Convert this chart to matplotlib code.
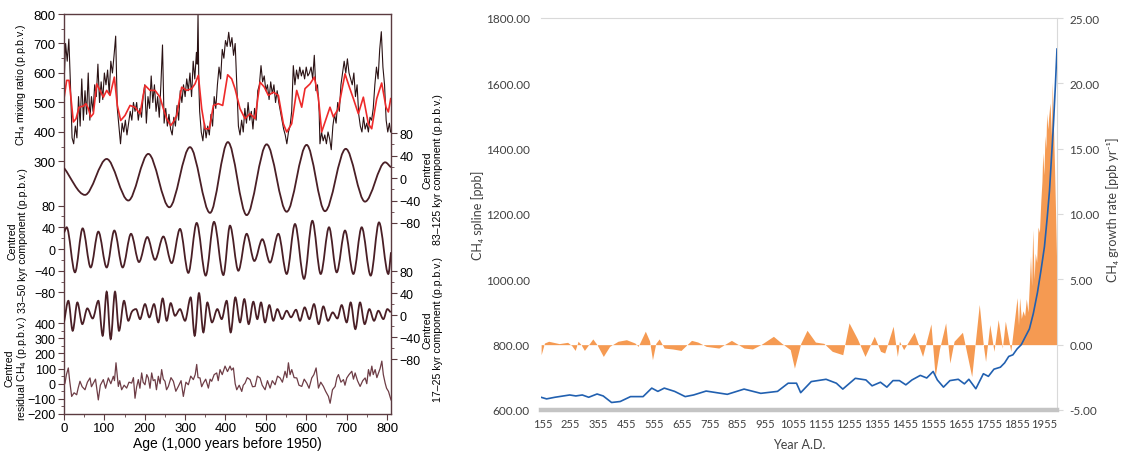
import matplotlib.pyplot as plt
from matplotlib.path import Path
from matplotlib.patches import PathPatch
from matplotlib.ticker import FixedLocator, FormatStrFormatter
import numpy as np

# ---------------- left panel: CH4 over 810 kyr (age kyr, p.p.b.v.) ----------------
raw_pts = [(0, 560), (4, 700), (8, 640), (12, 715), (16, 560), (20, 380), (24, 360), (28, 420),
           (32, 380), (36, 520), (40, 420), (44, 580), (48, 440), (52, 540), (56, 460), (60, 600),
           (64, 440), (68, 520), (72, 470), (76, 560), (80, 520), (84, 630), (88, 500), (92, 570),
           (96, 510), (100, 600), (104, 560), (108, 610), (112, 530), (116, 640), (120, 600),
           (124, 660), (128, 725), (132, 480), (136, 420), (140, 360), (144, 430), (148, 400),
           (152, 440), (156, 390), (160, 430), (164, 470), (168, 440), (172, 500), (176, 470),
           (180, 500), (184, 440), (188, 480), (192, 450), (196, 520), (200, 560), (204, 430),
           (208, 520), (212, 480), (216, 590), (220, 500), (224, 560), (228, 470), (232, 520),
           (236, 450), (240, 560), (244, 695), (248, 430), (252, 480), (256, 420), (260, 460),
           (264, 410), (268, 390), (272, 450), (276, 420), (280, 490), (284, 440), (288, 540),
           (292, 500), (296, 560), (300, 520), (304, 580), (308, 540), (312, 600), (316, 520),
           (320, 640), (324, 580), (328, 670), (330, 630), (332, 800), (334, 560), (336, 470),
           (340, 400), (344, 370), (348, 430), (352, 380), (356, 420), (360, 390), (364, 460),
           (368, 420), (372, 520), (376, 480), (380, 560), (384, 620), (388, 580), (392, 680),
           (396, 650), (400, 710), (404, 690), (408, 738), (412, 690), (416, 720), (420, 660),
           (424, 700), (428, 560), (432, 420), (436, 390), (440, 440), (444, 400), (448, 480),
           (452, 430), (456, 500), (460, 440), (464, 470), (468, 410), (472, 480), (476, 440),
           (480, 540), (484, 560), (488, 625), (492, 570), (496, 590), (500, 540), (504, 560),
           (508, 510), (512, 570), (516, 530), (520, 560), (524, 500), (528, 540), (532, 500),
           (536, 470), (540, 440), (544, 410), (548, 390), (552, 360), (556, 400), (560, 420),
           (564, 470), (568, 625), (572, 560), (576, 610), (580, 580), (584, 620), (588, 590),
           (592, 610), (596, 580), (600, 620), (604, 590), (608, 600), (612, 620), (616, 580),
           (620, 660), (624, 540), (628, 560), (632, 470), (634, 360), (638, 400), (642, 370),
           (646, 390), (650, 360), (654, 400), (658, 377), (662, 340), (666, 420), (670, 460),
           (674, 430), (678, 500), (682, 470), (686, 560), (690, 600), (694, 640), (698, 600),
           (702, 648), (706, 600), (710, 580), (714, 560), (718, 600), (722, 520), (726, 560),
           (730, 460), (734, 420), (738, 400), (742, 450), (746, 410), (750, 430), (754, 400),
           (758, 450), (762, 440), (766, 480), (770, 560), (774, 620), (778, 580), (782, 680),
           (786, 740), (790, 620), (794, 560), (798, 440), (802, 400), (806, 430), (809, 400)]

smooth_pts = [(0, 513), (6.6, 575), (12.4, 575), (17.4, 513), (23.2, 434), (29.8, 445), (37.2, 484),
              (48, 488), (54.5, 496), (60.3, 479), (66.1, 451), (72.7, 462), (81, 563), (89.2, 541),
              (97.5, 518), (105.7, 541), (114, 524), (124.7, 586), (132.1, 490), (140.4, 439),
              (151.1, 456), (163.5, 490), (175.9, 484), (188.3, 462), (200.7, 558), (213.1, 541),
              (225.5, 541), (237.8, 518), (246.1, 479), (254.4, 445), (264.3, 422), (270.9, 434),
              (279.1, 456), (291.5, 552), (303.9, 541), (316.3, 547), (324.5, 563), (332.8, 592),
              (341.1, 479), (349.3, 411), (360, 411), (370, 490), (382.3, 496), (393.1, 490),
              (405.4, 594), (415.4, 580), (423.6, 547), (436, 479), (448.4, 445), (460.8, 462),
              (473.2, 445), (485.6, 569), (496.3, 552), (506.2, 524), (518.6, 535), (531, 524),
              (543.3, 428), (551.6, 400), (564, 428), (576.4, 541), (588.8, 484), (597, 547),
              (609.4, 563), (620.1, 586), (630, 518), (638.3, 400), (646.6, 434), (658.9, 484),
              (667.2, 451), (679.6, 479), (696.1, 597), (706.9, 552), (716.8, 513), (729.1, 462),
              (741.5, 518), (753.9, 428), (762.2, 411), (774.6, 513), (786.9, 566), (797.7, 484),
              (803.5, 468), (809.2, 513)]

# extrema of the filtered components
c100_pts = [(0, 18), (52, -30), (105.7, 34), (159.4, -40), (208.9, 43), (261, -52), (312.1, 55),
            (361.7, -62), (406, 64), (452.5, -66), (502, 60), (551.6, -60), (601, 59), (646.5, -59),
            (698, 52), (745.6, -42), (795.5, 28), (810, 19)]

c41_pts = [(0, 30), (6.6, 40), (27.2, -43), (46.2, 38), (66.1, -34), (85.1, 32), (105.7, -34),
           (124.7, 34), (145.3, -34), (166, 28), (185.8, -24), (206.4, 22), (225.5, -20),
           (246.1, 23), (266.7, -26), (287.4, 37), (308, -44), (328.7, 48), (351, -49), (371.6, 50),
           (394.8, -48), (411.2, 43), (431.9, -40), (452.5, 28), (471.5, -22), (491.3, 18),
           (510.3, -25), (531, 28), (551.6, -46), (572.2, 46), (594.6, -55), (615.2, 52),
           (635.9, -46), (656.5, 40), (675.5, -43), (696.1, 34), (716.8, -46), (737.4, 40),
           (759.7, -49), (780.3, 49), (803.4, -46), (810, -6)]

c23_pts = [(0, -13), (10.8, 26), (21.5, -28.5), (33.1, 23), (45.4, -16.4), (57.8, 12.2), (71, -6.1),
           (85.1, 26), (95.8, -37.6), (105.7, 42.5), (115.6, -43.7), (126.4, 42.5), (136.3, -28.5),
           (148.7, 26), (159.4, -10.3), (168, 6), (178.4, 10.9), (188.3, -7.3), (200.7, 20),
           (211.4, -4.2), (223, 20), (233.7, -13.3), (244.4, 30.3), (254.4, -10.3), (264.3, 21.8),
           (275, -1.2), (287.4, 10.9), (299.8, -10.3), (313.8, 32.2), (323.7, -37.6), (334.4, 40),
           (345.2, -31.5), (355.1, 23), (366.6, -13.3), (379.8, 10.9), (390.6, -7.3), (402.9, 26),
           (412.9, -31.5), (424.4, 32.2), (436, -13.3), (446.7, 29.1), (457.5, -16.4), (469, 24.3),
           (478.9, -7.3), (488, 23), (497.9, -13.3), (508.7, 18.2), (518.6, -10.3), (528.5, 10.9),
           (540.1, -7.3), (551.6, 7.9), (562.3, -4), (574.7, 9.7), (584.6, -10.3), (596.2, 14),
           (607.8, -7.3), (619.3, 20), (630.9, -16.4), (642.4, 15.8), (654, -10.3), (665.6, 4.9),
           (677.1, -6.1), (687.8, 18.2), (700.2, -13.3), (710.1, 23), (721.7, -25.5), (733.3, 23),
           (744.8, -16.4), (756.4, 10.9), (768, -10.3), (778.7, 7.9), (791.1, -7.3), (801, 10.9),
           (809.2, 5)]

resid_pts = [(0, -10), (2.5, 4), (6, 60), (10.7, 104), (14, 20), (19, -84), (25, -60), (31.4, -73),
             (35, -30), (39.6, 16), (45, -20), (52, -40), (58, 10), (64.4, 38), (68, -20), (72.7, 4),
             (78, 30), (85, -107), (90, -10), (97.4, 27), (103, -30), (109.8, 38), (116, 0),
             (122.2, 49), (125, 20), (128.8, 138), (134.6, -18), (138, 20), (142.8, -40),
             (149, -10), (155.2, -29), (161, 10), (167.6, 4), (172, 40), (175.9, -96), (180, -20),
             (184.1, 27), (188, -30), (192.4, 71), (196, 10), (200.6, -7), (205, 60), (208.9, 38),
             (213, -30), (217.2, 71), (221, 20), (225.4, 27), (229, -40), (233.7, 49), (238, 0),
             (241.9, 93), (246, 30), (250.2, 16), (254, -40), (258.5, -18), (265, 40), (270.9, 16),
             (277, -50), (283.2, -18), (290, 20), (295.6, -84), (302, 10), (308, -7), (314, 50),
             (320.4, 27), (325, 60), (328.7, 127), (332, 40), (336.9, 38), (341, -20), (345.2, 4),
             (351, 30), (357.6, -29), (362, 30), (365.9, 16), (372, 60), (378.3, 71), (382, 20),
             (386.5, 93), (392, 60), (398.9, 116), (405, 80), (411.3, 116), (415, 90), (419.6, 104),
             (424, 0), (427.9, -40), (434, -10), (440.3, -51), (444, -10), (448.5, 4), (454, 40),
             (460.9, 27), (467, -20), (473.3, -18), (479, 50), (485.7, 38), (491, -10), (498.1, -40),
             (504, 20), (510.5, -29), (516, 20), (522.9, -7), (529, 50), (535.2, 38), (541, 10),
             (547.6, 82), (552, 40), (555.9, 138), (560, 60), (564.2, 93), (570, 40), (576.6, 38),
             (582, -10), (589, -18), (595, 30), (601.3, 4), (607, -30), (613.7, 38), (619, 60),
             (624.5, 104), (630.3, -29), (636, 10), (642.6, -18), (648, -50), (655, -84),
             (659.2, -129), (665, -40), (671.6, -18), (676, 40), (679.9, 60), (686, 10),
             (692.2, 27), (696, -10), (700.5, 38), (706, 60), (712.9, 82), (717, 30), (721.2, 71),
             (727, 20), (733.5, -18), (740, 20), (745.9, 38), (750, 0), (754.2, 93), (758, 50),
             (762.5, 116), (766, 60), (770.7, 93), (775, 40), (779, 71), (783, 100), (787.3, 149),
             (791, 60), (795.5, 4), (799, -30), (803.8, -51), (807, -80), (810, -107)]

age_ticks = [0, 100, 200, 300, 400, 500, 600, 700, 800]

# ---------------- right panel: CH4 spline and growth rate (Year A.D.) ----------------
spline_pts = [(150, 639), (170, 634), (200, 639), (253, 646), (275, 643), (298, 646), (321, 639),
              (351, 649), (373, 643), (403, 623), (434, 626), (471, 641), (516, 641), (547, 667),
              (569, 657), (592, 667), (629, 657), (667, 641), (697, 646), (742, 658), (818, 648),
              (878, 664), (938, 651), (998, 657), (1036, 682), (1066, 682), (1081, 653),
              (1119, 687), (1172, 694), (1209, 682), (1232, 664), (1277, 697), (1315, 692),
              (1337, 674), (1367, 685), (1390, 670), (1412, 690), (1435, 690), (1458, 677),
              (1480, 692), (1510, 706), (1533, 698), (1556, 718), (1571, 692), (1593, 670),
              (1616, 690), (1646, 694), (1668, 680), (1684, 694), (1709, 665), (1736, 711),
              (1754, 703), (1774, 725), (1797, 731), (1812, 744), (1827, 764), (1842, 769),
              (1857, 787), (1872, 800), (1887, 825), (1901, 848), (1915, 895), (1930, 960),
              (1943, 1030), (1955, 1100), (1965, 1190), (1973, 1270), (1980, 1370), (1987, 1470),
              (1994, 1590), (2000, 1705)]

growth_pts = [(150.5, -0.77), (162.5, 0.13), (177.6, 0.26), (215.2, 0.08), (245.4, 0.18),
              (260.4, -0.08), (272.5, -0.44), (283, 0.26), (293.6, 0), (305.6, -0.44), (320.7, 0),
              (335.7, 0.44), (350.8, 0), (373.4, -0.9), (396, -0.13), (426, 0.26), (456.2, 0.38),
              (486.3, 0.13), (498.4, -0.13), (524, 1.03), (539, 0.3), (549.6, -1.15), (561.6, 0.1),
              (573.7, 0.44), (591.7, -0.26), (621.9, -0.33), (652, -0.44), (689.6, 0.33),
              (712.2, 0.2), (742.3, -0.13), (787.5, -0.26), (832.7, 0.33), (877.9, -0.26),
              (908, -0.33), (938.1, 0), (983.3, 0.64), (1013.4, 0.1), (1043.6, -0.38),
              (1058.6, -1.8), (1081.2, 0.1), (1103.8, 1.1), (1133.9, 0.2), (1164, 0.1),
              (1194.2, -0.51), (1231.8, -0.77), (1254.4, 1.67), (1284.5, 0.44), (1311.6, -0.9),
              (1344.8, 0.64), (1367.3, -0.51), (1382.4, -0.64), (1412.5, 1.41), (1427.6, -0.9),
              (1435.1, 0.26), (1450.2, -0.38), (1487.8, 0.95), (1518, -0.9), (1548.1, 1.59),
              (1563.1, -2.44), (1578.2, -0.38), (1600.8, 1.67), (1615.8, -1.41), (1630.9, 0.26),
              (1661, 0.95), (1676.1, -0.6), (1694.2, -2.44), (1721.3, 3.08), (1736.3, -0.13),
              (1743.9, -1.28), (1759, 1.54), (1774, -0.51), (1789.1, 1.92), (1804.2, -0.26),
              (1814.7, 1.8), (1834.3, -0.51), (1856.9, 3.6), (1862, 1.5), (1866, 3.6), (1872, 2.0),
              (1878, 2.6), (1884, 2.2), (1890, 3.5), (1896, 2.5), (1901, 4.7), (1905, 6.8),
              (1909, 4.5), (1913, 8.8), (1918, 5.0), (1922, 7.0), (1927, 6.3), (1932, 9.0),
              (1937, 8.6), (1942, 11.0), (1946, 12.5), (1949, 14.7), (1953, 13.0), (1957, 16.0),
              (1960, 15.0), (1963, 17.7), (1967, 16.5), (1970, 17.4), (1975, 18.5), (1980, 16.0),
              (1983, 20.1), (1987, 17.0), (1991, 13.7), (1995, 10.0), (1999, 6.0)]

year_ticks = [155, 255, 355, 455, 555, 655, 755, 855, 955, 1055, 1155, 1255, 1355, 1455,
              1555, 1655, 1755, 1855, 1955]

W, H = 1121, 452
fig = plt.figure(figsize=(W / 100, H / 100), dpi=100)


def rect(x0, y0, x1, y1):
    return [x0 / W, 1 - y1 / H, (x1 - x0) / W, (y1 - y0) / H]


def smooth_path(pts):
    # cubic bezier through the listed points, flat at turning points
    x = np.array([p[0] for p in pts], float)
    y = np.array([p[1] for p in pts], float)
    n = len(x)
    m = np.zeros(n)
    for i in range(n):
        if i == 0:
            m[i] = (y[1] - y[0]) / (x[1] - x[0])
        elif i == n - 1:
            m[i] = (y[-1] - y[-2]) / (x[-1] - x[-2])
        elif (y[i] - y[i - 1]) * (y[i + 1] - y[i]) <= 0:
            m[i] = 0
        else:
            m[i] = (y[i + 1] - y[i - 1]) / (x[i + 1] - x[i - 1])
    verts = [(x[0], y[0])]
    codes = [Path.MOVETO]
    for i in range(n - 1):
        d = (x[i + 1] - x[i]) / 3
        verts += [(x[i] + d, y[i] + m[i] * d), (x[i + 1] - d, y[i + 1] - m[i + 1] * d), (x[i + 1], y[i + 1])]
        codes += [Path.CURVE4] * 3
    return Path(verts, codes)


# ---------------- left panel ----------------
LFONT = ['Liberation Sans', 'DejaVu Sans']
brown = '#5b3b40'
wave = '#4a1f26'
L = rect(64, 15, 391, 415)
TSIZE = 9

ax0 = fig.add_axes(L)
ax0.set_xlim(0, 810)
ax0.set_ylim(-556, 800)
for s in ax0.spines.values():
    s.set_color(brown)
    s.set_linewidth(1.0)
ax0.plot(*zip(*raw_pts), color='#2a1214', lw=0.8)
ax0.plot(*zip(*smooth_pts), color='#ee2a2a', lw=1.2)
ax0.set_xticks(age_ticks)
ax0.xaxis.set_minor_locator(FixedLocator([50, 150, 250, 350, 450, 550, 650, 750]))
ax0.set_yticks([300, 400, 500, 600, 700, 800])
ax0.yaxis.set_minor_locator(FixedLocator([350, 450, 550, 650, 750]))
ax0.tick_params(which='both', direction='out', color=brown, labelsize=TSIZE + 0.5, pad=2)
ax0.tick_params(which='major', length=4)
ax0.tick_params(which='minor', length=2)
ax0.set_xlabel('Age (1,000 years before 1950)', fontsize=10, family=LFONT, labelpad=1)
for t in ax0.get_xticklabels() + ax0.get_yticklabels():
    t.set_family(LFONT)


def overlay(ylim, ticks, minor, side):
    a = fig.add_axes(L)
    a.patch.set_visible(False)
    for s in a.spines.values():
        s.set_visible(False)
    a.set_xlim(0, 810)
    a.set_ylim(*ylim)
    a.set_xticks([])
    a.set_yticks(ticks)
    a.yaxis.set_minor_locator(FixedLocator(minor))
    if side == 'right':
        a.yaxis.tick_right()
    a.tick_params(which='both', direction='out', color=brown, labelsize=TSIZE, pad=2)
    a.tick_params(which='major', length=4)
    a.tick_params(which='minor', length=2)
    for t in a.get_yticklabels():
        t.set_family(LFONT)
    return a


comp_ticks = [-80, -40, 0, 40, 80]
comp_minor = [-60, -20, 20, 60]
ax1 = overlay((-420, 292), comp_ticks, comp_minor, 'right')
ax1.add_patch(PathPatch(smooth_path(c100_pts), fill=False, edgecolor=wave, lw=1.3))
ax2 = overlay((-304, 433), comp_ticks, comp_minor, 'left')
ax2.add_patch(PathPatch(smooth_path(c41_pts), fill=False, edgecolor=wave, lw=1.3))
ax3 = overlay((-180, 548), comp_ticks, comp_minor, 'right')
ax3.add_patch(PathPatch(smooth_path(c23_pts), fill=False, edgecolor=wave, lw=1.3))
ax4 = overlay((-200, 2440), [-200, -100, 0, 100, 200, 300, 400], [-150, -50, 50, 150, 250, 350], 'left')
ax4.plot(*zip(*resid_pts), color='#6e3d46', lw=0.9)


def ftext(x, y, s, **kw):
    fig.text(x / W, 1 - y / H, s, rotation=90, ha='center', va='center', multialignment='center',
             fontsize=7.6, family=LFONT, linespacing=1.1, **kw)


ftext(21, 85, 'CH$_4$ mixing ratio (p.p.b.v.)')
ftext(18, 241, 'Centred\n33–50 kyr component (p.p.b.v.)')
ftext(17, 368, 'Centred\nresidual CH$_4$ (p.p.b.v.)')
ftext(433, 170, 'Centred\n83–125 kyr component (p.p.b.v.)')
ftext(433, 330, 'Centred\n17–25 kyr component (p.p.b.v.)')

# ---------------- right panel ----------------
RFONT = ['Lato', 'DejaVu Sans']
txt = '#404040'
ax = fig.add_axes(rect(541, 19, 1057, 411))
axr = ax.twinx()
ax.set_zorder(axr.get_zorder() + 1)
ax.patch.set_visible(False)

gx, gy = zip(*growth_pts)
axr.fill_between(gx, 0, gy, color='#f59a52', lw=0)
ax.plot(*zip(*spline_pts), color='#2160b0', lw=1.2)

ax.set_xlim(150, 2000)
ax.set_ylim(600, 1800)
axr.set_ylim(-5, 25)
ax.set_yticks(range(600, 1801, 200))
axr.set_yticks(range(-5, 26, 5))
ax.yaxis.set_major_formatter(FormatStrFormatter('%.2f'))
axr.yaxis.set_major_formatter(FormatStrFormatter('%.2f'))
ax.set_xticks(year_ticks)

for a in (ax, axr):
    for s in a.spines.values():
        s.set_visible(False)
ax.spines['top'].set_visible(True)
ax.spines['top'].set_color('#d9d9d9')
ax.spines['top'].set_linewidth(0.8)
axr.spines['right'].set_visible(True)
axr.spines['right'].set_color('#d9d9d9')
axr.spines['right'].set_linewidth(0.8)
ax.spines['bottom'].set_visible(True)
ax.spines['bottom'].set_color('#c4c4c4')
ax.spines['bottom'].set_linewidth(3.2)

ax.tick_params(axis='x', length=0, pad=6, labelsize=8, labelcolor=txt)
ax.tick_params(axis='y', length=0, pad=8, labelsize=8.5, labelcolor=txt)
axr.tick_params(axis='y', length=4, color='#d9d9d9', pad=5, labelsize=8.5, labelcolor=txt)
for t in ax.get_xticklabels() + ax.get_yticklabels() + axr.get_yticklabels():
    t.set_family(RFONT)

ax.set_xlabel('Year A.D.', fontsize=9, family=RFONT, color=txt, labelpad=6)
fig.text(478 / W, 1 - 215 / H, 'CH₄ spline [ppb]', rotation=90, ha='center', va='center',
         fontsize=9, family=RFONT, color=txt)
fig.text(1113 / W, 1 - 210 / H, 'CH₄ growth rate [ppb yr⁻¹]', rotation=90, ha='center', va='center',
         fontsize=9, family=RFONT, color=txt)

fig.savefig('out.png', dpi=100)
